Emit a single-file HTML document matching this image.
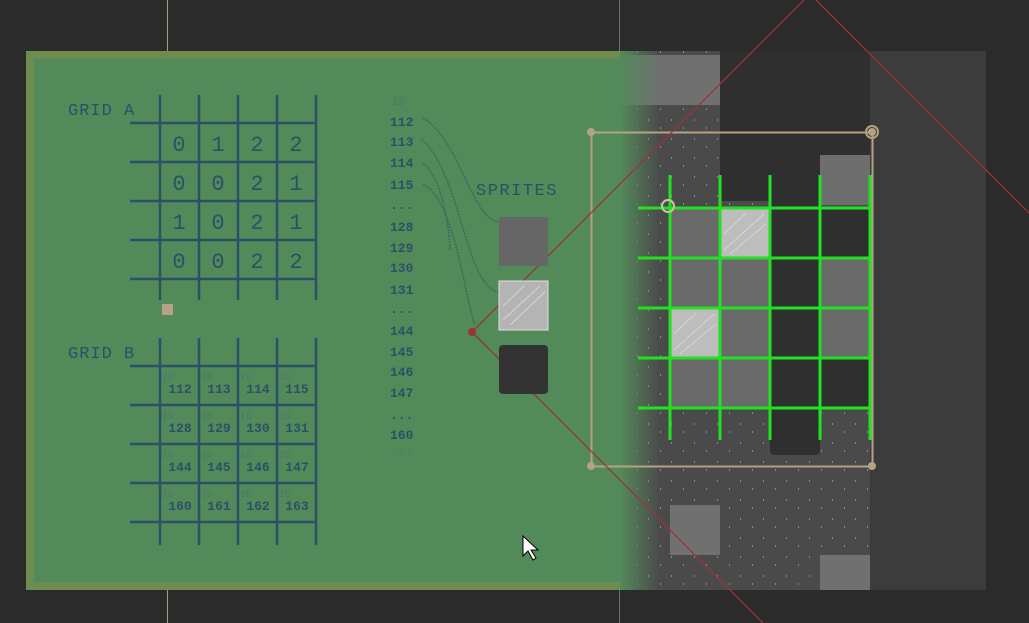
<!DOCTYPE html>
<html><head><style>
body{margin:0;width:1029px;height:623px;overflow:hidden;background:#2b2b2b;font-family:"Liberation Mono",monospace}
</style></head><body>
<svg width="1029" height="623" xmlns="http://www.w3.org/2000/svg" style="position:absolute;left:0;top:0">
<defs>
<linearGradient id="fade" x1="0" x2="1">
<stop offset="0" stop-color="#538a5a" stop-opacity="1"/>
<stop offset="1" stop-color="#538a5a" stop-opacity="0"/>
</linearGradient>
<pattern id="dots" width="23" height="19" patternUnits="userSpaceOnUse">
<rect x="4" y="5" width="1" height="2" fill="#8a8a8a"/><rect x="16" y="13" width="1" height="2" fill="#8a8a8a"/>
</pattern>
</defs>
<line x1="167.5" y1="0" x2="167.5" y2="623" stroke="#a89a7c"/>
<line x1="619.5" y1="0" x2="619.5" y2="623" stroke="#6a6a80"/>
<rect x="870" y="51" width="116" height="539" fill="#3c3c3c"/>
<rect x="600" y="51" width="270" height="539" fill="#4a4a4a"/>
<rect x="600" y="51" width="270" height="539" fill="url(#dots)"/>
<rect x="720" y="51" width="150" height="150" fill="#2f2f2f"/>
<g fill="#6a6a6a">
<rect x="670" y="208" width="50" height="50"/><rect x="670" y="258" width="50" height="50"/><rect x="670" y="358" width="50" height="50"/>
<rect x="720" y="258" width="50" height="50"/><rect x="720" y="308" width="50" height="50"/><rect x="720" y="358" width="50" height="50"/>
<rect x="820" y="258" width="50" height="50"/><rect x="820" y="308" width="50" height="50"/>
<rect x="820" y="155" width="50" height="50" fill="#6e6e6e"/>
<rect x="620" y="55" width="50" height="50" fill="#707070"/><rect x="670" y="55" width="50" height="50" fill="#707070"/>
<rect x="670" y="505" width="50" height="50" fill="#707070"/><rect x="820" y="555" width="50" height="35" fill="#707070"/>
</g>
<g fill="#2f2f2f">
<rect x="770" y="201" width="50" height="254" rx="4"/>
<rect x="820" y="208" width="50" height="50"/><rect x="820" y="358" width="50" height="50"/>
</g>
<g fill="#bdbdbd" stroke="#d8d8d8">
<rect x="721" y="209" width="48" height="48"/><rect x="671" y="309" width="48" height="48"/>
</g>
<rect x="26" y="51" width="594" height="539" fill="#6f8c50"/>
<rect x="34" y="59" width="586" height="523" fill="#538a5a"/>
<rect x="620" y="51" width="40" height="539" fill="url(#fade)"/>
<g stroke="#22e022" stroke-width="3">
<line x1="670" y1="175" x2="670" y2="440"/><line x1="720" y1="175" x2="720" y2="440"/><line x1="770" y1="175" x2="770" y2="440"/><line x1="820" y1="175" x2="820" y2="440"/><line x1="870" y1="175" x2="870" y2="440"/>
<line x1="638" y1="208" x2="870" y2="208"/><line x1="638" y1="258" x2="870" y2="258"/><line x1="638" y1="308" x2="870" y2="308"/><line x1="638" y1="358" x2="870" y2="358"/><line x1="638" y1="408" x2="870" y2="408"/>
</g>
<rect x="591.5" y="132.5" width="281" height="334" fill="none" stroke="#b5a282" stroke-width="2"/>
<g fill="#b5a282"><circle cx="591" cy="132" r="4"/><circle cx="591" cy="466" r="4"/><circle cx="872" cy="466" r="4"/><circle cx="872" cy="132" r="6" fill="none" stroke="#b5a282" stroke-width="2"/><circle cx="872" cy="132" r="4"/></g>
<circle cx="668" cy="206" r="6" fill="none" stroke="#c8c0a8" stroke-width="2"/>
<g stroke="#9c3434" stroke-width="1.3" fill="none">
<line x1="472" y1="332" x2="810" y2="-6"/><line x1="472" y1="332" x2="763" y2="623"/><line x1="810" y1="-6" x2="1035" y2="219"/>
</g>
<circle cx="472" cy="332" r="4" fill="#9c3434"/>
<g stroke="#2d5068" stroke-width="2.5">
<line x1="160" y1="95" x2="160" y2="300"/><line x1="199" y1="95" x2="199" y2="300"/><line x1="238" y1="95" x2="238" y2="300"/><line x1="277" y1="95" x2="277" y2="300"/><line x1="316" y1="95" x2="316" y2="300"/>
<line x1="130" y1="123" x2="316" y2="123"/><line x1="130" y1="162" x2="316" y2="162"/><line x1="130" y1="201" x2="316" y2="201"/><line x1="130" y1="240" x2="316" y2="240"/><line x1="130" y1="279" x2="316" y2="279"/>
<line x1="160" y1="338" x2="160" y2="545"/><line x1="199" y1="338" x2="199" y2="545"/><line x1="238" y1="338" x2="238" y2="545"/><line x1="277" y1="338" x2="277" y2="545"/><line x1="316" y1="338" x2="316" y2="545"/>
<line x1="130" y1="366" x2="316" y2="366"/><line x1="130" y1="405" x2="316" y2="405"/><line x1="130" y1="444" x2="316" y2="444"/><line x1="130" y1="483" x2="316" y2="483"/><line x1="130" y1="522" x2="316" y2="522"/>
</g>
<rect x="162" y="304" width="11" height="11" fill="#b5a282"/>
<g font-family="Liberation Mono" fill="#2d5068">
<text x="68" y="115" font-size="17" letter-spacing="1">GRID A</text>
<text x="68" y="358" font-size="17" letter-spacing="1">GRID B</text>
<text x="476" y="195" font-size="17" letter-spacing="1.5">SPRITES</text>
<g font-size="22" text-anchor="middle">
<text x="179" y="151">0</text><text x="218" y="151">1</text><text x="257" y="151">2</text><text x="296" y="151">2</text>
<text x="179" y="190">0</text><text x="218" y="190">0</text><text x="257" y="190">2</text><text x="296" y="190">1</text>
<text x="179" y="229">1</text><text x="218" y="229">0</text><text x="257" y="229">2</text><text x="296" y="229">1</text>
<text x="179" y="268">0</text><text x="218" y="268">0</text><text x="257" y="268">2</text><text x="296" y="268">2</text>
</g>
<g font-size="13" font-weight="bold" text-anchor="middle">
<text x="180" y="393">112</text><text x="219" y="393">113</text><text x="258" y="393">114</text><text x="297" y="393">115</text>
<text x="180" y="432">128</text><text x="219" y="432">129</text><text x="258" y="432">130</text><text x="297" y="432">131</text>
<text x="180" y="471">144</text><text x="219" y="471">145</text><text x="258" y="471">146</text><text x="297" y="471">147</text>
<text x="180" y="510">160</text><text x="219" y="510">161</text><text x="258" y="510">162</text><text x="297" y="510">163</text>
</g>
<g font-size="10" fill="#4a7a6a">
<text x="162" y="380">ID</text><text x="201" y="380">ID</text><text x="240" y="380">ID</text><text x="279" y="380">ID</text>
<text x="162" y="419">ID</text><text x="201" y="419">ID</text><text x="240" y="419">ID</text><text x="279" y="419">ID</text>
<text x="162" y="458">ID</text><text x="201" y="458">ID</text><text x="240" y="458">ID</text><text x="279" y="458">ID</text>
<text x="162" y="497">ID</text><text x="201" y="497">ID</text><text x="240" y="497">ID</text><text x="279" y="497">ID</text>
<text x="392" y="105" font-size="11">ID</text>
</g>
<g font-size="13" font-weight="bold">
<text x="390" y="126">112</text><text x="390" y="146">113</text><text x="390" y="167">114</text><text x="390" y="189">115</text>
<text x="390" y="209">...</text><text x="390" y="231">128</text><text x="390" y="252">129</text><text x="390" y="272">130</text><text x="390" y="294">131</text>
<text x="390" y="313">...</text><text x="390" y="335">144</text><text x="390" y="356">145</text><text x="390" y="376">146</text><text x="390" y="397">147</text>
<text x="390" y="419">...</text><text x="390" y="439">160</text><text x="390" y="455" fill="#4a7a6a">...</text>
</g>
</g>
<g stroke="#3e6a5a" stroke-width="1.5" fill="none" stroke-dasharray="2 1">
<path d="M423 118 C460 140,470 215,498 222"/>
<path d="M421 139 C460 170,465 285,498 292"/>
<path d="M423 163 C445 180,450 240,450 250"/>
<path d="M423 184 C455 200,465 300,475 325"/>
</g>
<rect x="499" y="217" width="49" height="49" fill="#666"/>
<rect x="499" y="281" width="49" height="49" fill="#b4b4b4" stroke="#e0e0e0"/>
<rect x="499" y="345" width="49" height="49" fill="#333" rx="4"/>
<g stroke="#d5d5d5" stroke-width="1" fill="none">
<path d="M503 320 L540 286 M510 325 L545 292 M503 306 L525 285"/>
<path d="M674 350 L714 314 M680 354 L716 324 M674 334 L696 313"/>
<path d="M724 250 L764 214 M730 254 L766 224 M724 234 L746 213"/>
</g>
<path d="M523 536 L523 556 L528 551 L533 560 L536 558 L531 550 L538 550 Z" fill="#fff" stroke="#000"/>
</svg>
</body></html>
